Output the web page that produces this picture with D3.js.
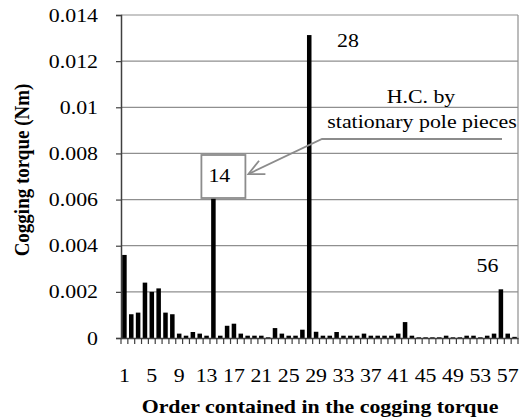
<!DOCTYPE html>
<html>
<head>
<meta charset="utf-8">
<script src="https://cdn.jsdelivr.net/npm/d3@7"></script>
<style>
  body { margin: 0; background: #fff; }
</style>
</head>
<body>
<svg class="chart" width="520" height="419"></svg>
<script>
// harmonic orders shown on the x axis
var orders = [1,2,3,4,5,6,7,8,9,10,11,12,13,14,15,16,17,18,19,20,21,22,23,24,25,26,27,28,29,
              30,31,32,33,34,35,36,37,38,39,40,41,42,43,44,45,46,47,48,49,50,51,52,53,54,55,56,57,58];
// cogging torque amplitude per order (Nm)
var torque = [0.0036,0.00103,0.0011,0.0024,0.002,0.00215,0.0011,0.00103,0.00019,0.0001,
              0.00026,0.00019,0.0001,0.0061,0.0001,0.00053,0.00062,0.00019,0.0001,0.0001,
              0.0001,0.00003,0.00043,0.00019,0.0001,0.0001,0.00036,0.01313,0.00027,0.0001,
              0.0001,0.00026,0.0001,0.0001,0.0001,0.00019,0.0001,0.0001,0.0001,0.0001,
              0.00019,0.00069,0.0001,0.00003,0.00003,0.00003,0.00003,0.0001,0.00003,0.00003,
              0.0001,0.0001,0.00003,0.0001,0.00019,0.00211,0.00019,0.00005];
var yTicks = [0,0.002,0.004,0.006,0.008,0.01,0.012,0.014];
var xLabels = [1,5,9,13,17,21,25,29,33,37,41,45,49,53,57];
var peakLabels = [28,56];

var FONT = "Liberation Serif, DejaVu Serif, serif";
var STRETCH = 1.15;   // text in the source picture is a bit wide
var svg = d3.select(".chart");
var pL = 121, pR = 518, pT = 15, pB = 338;

var x = d3.scaleBand().domain(orders).range([pL,pR]).paddingInner(0.34).paddingOuter(0.17);
var y = d3.scaleLinear().domain([0,0.014]).range([pB,pT]);

// gridlines
svg.append("g").attr("class","grid").selectAll("line").data(yTicks.filter(function(d){ return d>0; }))
  .enter().append("line")
  .attr("x1",pL).attr("x2",pR)
  .attr("y1",function(d){ return y(d); }).attr("y2",function(d){ return y(d); })
  .attr("stroke","#8f8f8f").attr("stroke-width",1.2);
// right border of plot area
svg.append("line").attr("x1",pR).attr("x2",pR).attr("y1",pT).attr("y2",pB)
  .attr("stroke","#8f8f8f").attr("stroke-width",1.2);

// bars
svg.append("g").attr("class","bars").selectAll("rect").data(orders).enter().append("rect")
  .attr("x",function(d){ return x(d); })
  .attr("width",x.bandwidth())
  .attr("y",function(d,i){ return y(torque[i]); })
  .attr("height",function(d,i){ return pB-y(torque[i]); })
  .attr("fill","#000");

// y axis
var yAxis = svg.append("g").attr("transform","translate("+pL+",0)")
  .call(d3.axisLeft(y).tickValues(yTicks).tickSize(5).tickPadding(18)
    .tickFormat(function(d){ return d===0 ? "0" : String(+d.toFixed(3)); }));
yAxis.attr("font-family",null).attr("font-size",null);
yAxis.select(".domain").attr("stroke","#404040").attr("stroke-width",1.5);
yAxis.selectAll(".tick line").attr("stroke","#404040").attr("stroke-width",1.2);
yAxis.selectAll("text").attr("class","lbl").attr("fill","#000").style("font-family",FONT).style("font-size","19px");

// x axis: labels every 4th order, tick marks between categories
var xAxis = svg.append("g").attr("transform","translate(0,"+pB+")")
  .call(d3.axisBottom(x).tickValues(xLabels).tickSize(0).tickPadding(31));
xAxis.attr("font-family",null).attr("font-size",null);
xAxis.select(".domain").attr("stroke","#404040").attr("stroke-width",1.5);
xAxis.selectAll("text").attr("class","lbl").attr("fill","#000").style("font-family",FONT).style("font-size","19px");
var step = x.step();
var bounds = orders.map(function(d){ return x(d)-x.paddingInner()*step/2; });
bounds.push(pR);
svg.append("g").selectAll("line").data(bounds).enter().append("line")
  .attr("x1",function(d){ return d; }).attr("x2",function(d){ return d; })
  .attr("y1",pB).attr("y2",pB+6)
  .attr("stroke","#404040").attr("stroke-width",1.2);

// callout for order 14
var c14 = x(14)+x.bandwidth()/2;
svg.append("rect").attr("x",c14-12).attr("y",155).attr("width",44).attr("height",43)
  .attr("fill","#fff").attr("stroke","#8c8c8c").attr("stroke-width",1.8);
var tip = [c14+35,174], knee = [322,139];
svg.append("polyline")
  .attr("points",[tip,knee,[502,139]].map(function(p){ return p.join(","); }).join(" "))
  .attr("fill","none").attr("stroke","#8c8c8c").attr("stroke-width",1.8);
var ang = Math.atan2(knee[1]-tip[1], knee[0]-tip[0]);
var head = [ang-0.45, ang+0.45].map(function(a){ return [tip[0]+17*Math.cos(a), tip[1]+17*Math.sin(a)]; });
svg.append("polyline").attr("points",[head[0],tip,head[1]].map(function(p){ return p.join(","); }).join(" "))
  .attr("fill","none").attr("stroke","#8c8c8c").attr("stroke-width",1.8);

// all free text
var txt = svg.append("g");
function label(){ return txt.append("text").attr("class","lbl").style("font-family",FONT).style("font-size","19px").attr("fill","#000"); }

label().attr("class",null).attr("transform","translate(29,170) scale("+STRETCH+",1) rotate(-90)")
  .attr("text-anchor","middle").style("font-weight","bold")
  .text("Cogging torque (Nm)");
label().attr("x",320).attr("y",413)
  .attr("text-anchor","middle").style("font-weight","bold")
  .text("Order contained in the cogging torque");

peakLabels.forEach(function(d){
  label().attr("x", d===28 ? x(d)+30 : x(d)-22)
    .attr("y", y(torque[d-1]) + (d===28 ? 12 : -17))
    .text(d);
});
label().attr("x",c14-5).attr("y",182).text("14");
label().attr("x",421).attr("y",103).attr("text-anchor","middle").text("H.C. by");
label().attr("x",422).attr("y",128).attr("text-anchor","middle").text("stationary pole pieces");

// widen horizontal texts to match the source
svg.selectAll("text.lbl").each(function(){
  var len = this.getComputedTextLength();
  d3.select(this).attr("textLength",len*STRETCH).attr("lengthAdjust","spacingAndGlyphs");
});
</script>
</body>
</html>
